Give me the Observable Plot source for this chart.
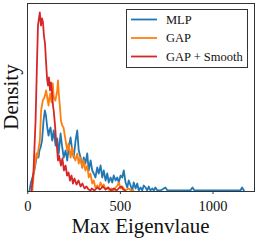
<!DOCTYPE html>
<html><head><meta charset="utf-8">
<script src="https://cdn.jsdelivr.net/npm/d3@7"></script>
<script src="https://cdn.jsdelivr.net/npm/@observablehq/plot@0.6"></script>
<style>body{margin:0;background:#fff}#chart{width:258px;height:242px}</style>
</head><body><div id="chart"></div>
<script>
// Max eigenvalue (x) and density (arbitrary units, y-axis unlabelled)
const mlpX = [9,17,25,32,42,51,58,63,69,77,85,92,98,105,112,117,123,128,132,140,150,159,167,177,186,194,204,213,221,231,240,248,258,267,275,285,294,302,311,321,329,339,348,356,365,375,383,393,402,410,420,429,437,447,456,464,474,483,491,501,510,518,528,537,545,555,564,572,582,591,599,609,618,626,636,645,653,662,672,680,689,699,717,743,754,797,878,889,900,1148,1157,1167];
const mlpY = [0,8,13,17,27,37,33,40,43,50,70,80,75,63,55,60,63,55,50,60,45,52,37,57,43,33,40,30,43,53,40,33,50,60,40,33,23,33,27,37,20,30,20,17,13,23,17,25,13,20,10,17,8,13,8,15,10,13,8,15,13,20,8,3,10,5,0,8,2,7,0,3,0,5,3,0,4,0,2,0,3,0,0,3,0,0,0,3,0,0,3,0];
const gapX = [25,32,42,47,52,58,65,72,81,90,99,106,112,117,122,128,135,140,149,159,163,168,173,179,186,193,204,213,220,231,240,247,257,267,275,284,294,302,311,321,329,338,348,356,365,375,383,393,402,410,420,430,441,452,463,474,484,492,501,511,527,544,560,571];
const gapY = [0,17,30,37,33,42,50,80,90,93,100,92,85,93,97,88,107,93,90,100,110,95,85,70,65,63,50,40,47,33,43,35,30,37,27,33,23,30,20,25,13,17,7,10,3,5,2,8,3,6,1,3,0,2,0,3,5,8,2,4,0,2,0,0];
const smoothX = [20,31,42,50,55,60,65,71,77,82,87,93,98,104,109,114,120,125,131,136,141,147,152,158,163,168,174,179,187,195,204,212,220,228,236,244,252,263,274,285,295,306,317,328,339,345,360,375,390,405,420,435,450,465,480,495,505,515,525];
const smoothY = [0,20,70,130,165,172,178,165,172,168,155,147,130,112,105,113,100,108,98,85,78,65,52,42,30,35,30,25,32,20,25,15,18,10,15,7,12,6,10,4,7,2,4,1,0,2,0,3,1,4,1,3,0,2,0,3,4,1,0];
const seriesNames = ["MLP", "GAP", "GAP + Smooth"];
const seriesColors = ["#1f77b4", "#ff7f0e", "#d62728"];
const xTicks = [0, 500, 1000];
const xLabel = "Max Eigenvlaue";
const yLabel = "Density";

const toRows = (xs, ys, s) => xs.map((x, i) => ({x, y: ys[i], s}));
const datasets = [toRows(mlpX, mlpY, seriesNames[0]), toRows(gapX, gapY, seriesNames[1]), toRows(smoothX, smoothY, seriesNames[2])];
const font = "'Liberation Serif', 'DejaVu Serif', serif";

const plot = Plot.plot({
  width: 258, height: 242,
  marginLeft: 27, marginRight: 4, marginTop: 3, marginBottom: 51,
  style: {fontFamily: font, background: "#fff", overflow: "visible"},
  x: {domain: [-1.6, 1224]},
  y: {domain: [0, 187], range: [190, 3]},
  marks: [
    ...datasets.map((d, i) => Plot.line(d, {x: "x", y: "y", stroke: seriesColors[i], strokeWidth: 1.8, strokeLinejoin: "round"})),
    Plot.frame({stroke: "#333", strokeWidth: 1}),
    Plot.axisX(xTicks, {tickSize: 3, tickPadding: 6, fontSize: 14.5, fontFamily: font, tickFormat: d3.format("d"), label: null, stroke: "#333", fill: "#111"}),
    Plot.axisY({ticks: [], label: null})
  ]
});
document.getElementById("chart").appendChild(plot);

const svg = d3.select(plot);
svg.append("text").attr("x", 140.5).attr("y", 233).attr("text-anchor", "middle")
  .attr("font-family", font).attr("font-size", 21).attr("fill", "#111").text(xLabel);
svg.append("text").attr("transform", "translate(18,97) rotate(-90)").attr("text-anchor", "middle")
  .attr("font-family", font).attr("font-size", 21).attr("fill", "#111").text(yLabel);

const lg = svg.append("g");
lg.append("rect").attr("x", 126.5).attr("y", 9.5).attr("width", 121).attr("height", 58)
  .attr("fill", "#fff").attr("stroke", "#333").attr("stroke-width", 1);
seriesNames.forEach((name, i) => {
  const yy = 19.5 + i * 18.5;
  lg.append("line").attr("x1", 131).attr("x2", 157).attr("y1", yy).attr("y2", yy)
    .attr("stroke", seriesColors[i]).attr("stroke-width", 1.8);
  lg.append("text").attr("x", 166).attr("y", yy + 4.3).attr("text-anchor", "start").attr("font-family", font)
    .attr("font-size", 12.5).attr("fill", "#111").text(name);
});
</script></body></html>
